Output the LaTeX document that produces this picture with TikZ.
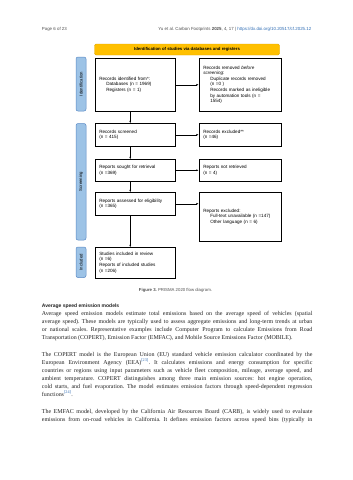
\documentclass[tikz,border=0pt]{standalone}
\usepackage{fontspec}
\setmainfont{Liberation Serif}
\newfontfamily\sansf{Liberation Sans}
\usetikzlibrary{arrows.meta}
\definecolor{bannerY}{HTML}{FFC000}
\definecolor{bannerB}{HTML}{E0A800}
\definecolor{sideF}{HTML}{9DC3E6}
\definecolor{sideB}{HTML}{5A8AC6}
\definecolor{hdrgray}{HTML}{505050}
\definecolor{urlblue}{HTML}{2F6DB5}
\definecolor{citeblue}{HTML}{2F6DB5}
\definecolor{bodyc}{HTML}{222222}
\newcommand\bodyline[3]{\node[bodytxt] (#1) at (41.7,#2) {\hbox to 270.5pt{#3}};}
\newcommand\ind{\hspace*{7pt}}
\begin{document}
\frenchspacing
\begin{tikzpicture}[x=1pt,y=-1pt,
  bodytxt/.style={anchor=base west, inner sep=0pt, text=bodyc, font=\frenchspacing\fontsize{5.95}{7.9}\selectfont},
  fbox/.style={draw, line width=0.5pt, fill=white, anchor=north west, align=left, inner xsep=4.5pt, inner ysep=0pt, font=\sansf\fontsize{4.6}{5.6}\selectfont},
  leftbox/.style={fbox, minimum width=80pt, text width=71pt},
  rightbox/.style={fbox, minimum width=82pt, text width=73pt},
  side/.style={draw=sideB, fill=sideF, line width=0.5pt, rounded corners=2pt, rotate=90, minimum height=10pt, inner sep=0pt, font=\sansf\fontsize{4.3}{5}\selectfont},
  arr/.style={-{Latex[length=2.2pt,width=2pt]}, line width=0.4pt},
  hdr/.style={inner sep=0pt, text=hdrgray, font=\sansf\fontsize{4.4}{5}\selectfont}
]
\useasboundingbox (0,0) rectangle (353,480);
\fill[white] (0,0) rectangle (353,480);

% header
\node[hdr, anchor=base west] (hl) at (41.7,30.5) {Page 6 of 23};
\node[hdr, anchor=base east] (hr) at (311.5,30.5) {Yu et al. Carbon Footprints \textbf{2025}, 4, 17 \textbar{} \textcolor{urlblue}{https://dx.doi.org/10.20517/cf.2025.12}};

% banner
\node[draw=bannerB, fill=bannerY, line width=0.4pt, rounded corners=1.5pt, minimum width=185pt, minimum height=11pt, inner sep=0pt, font=\sansf\bfseries\fontsize{4.3}{5}\selectfont] (banner) at (187,49.5) {Identification of studies via databases and registers};

% side bars
\node[side, minimum width=54pt] (sid1) at (81,84) {Identification};
\node[side, minimum width=116.5pt] (sid2) at (81,181.75) {Screening};
\node[side, minimum width=30.5pt] (sid3) at (81,262.25) {Included};

% boxes
\node[leftbox, minimum height=53pt] (ident) at (94.5,58) {Records identified from*:\\\ind Databases (n = 1969)\\\ind Registers (n = 1)};
\node[rightbox, minimum height=53pt] (removed) at (198.5,58) {Records removed \emph{before}\\\emph{screening}:\\\ind Duplicate records removed\\\ind (n =0 )\\\ind Records marked as ineligible\\\ind by automation tools (n =\\\ind 1554)};
\node[leftbox, minimum height=23pt] (screened) at (94.5,123) {Records screened\\(n = 415)};
\node[rightbox, minimum height=23pt] (excl1) at (198.5,123) {Records excluded**\\(n =46)};
\node[leftbox, minimum height=22pt] (sought) at (94.5,159) {Reports sought for retrieval\\(n =369)};
\node[rightbox, minimum height=22pt] (notret) at (198.5,159) {Reports not retrieved\\(n = 4)};
\node[leftbox, minimum height=23pt] (assessed) at (94.5,192) {Reports assessed for eligibility\\(n =365)};
\node[rightbox, minimum height=49pt] (excl2) at (198.5,192) {Reports excluded:\\\ind Full-text unavailable (n =147)\\\ind Other language (n = 6)};
\node[leftbox, minimum height=30.5pt] (incl) at (94.5,247) {Studies included in review\\(n =6)\\Reports of included studies\\(n =206)};

% arrows
\draw[arr] (ident.east) -- (ident.east -| removed.west);
\draw[arr] (screened.east) -- (screened.east -| excl1.west);
\draw[arr] (sought.east) -- (sought.east -| notret.west);
\draw[arr] (assessed.east) -- (assessed.east -| excl2.west);
\draw[arr] ([xshift=-4.5pt]ident.south) -- ([xshift=-4.5pt]ident.south |- screened.north);
\draw[arr] ([xshift=-4.5pt]screened.south) -- ([xshift=-4.5pt]screened.south |- sought.north);
\draw[arr] ([xshift=-4.5pt]sought.south) -- ([xshift=-4.5pt]sought.south |- assessed.north);
\draw[arr] ([xshift=-4.5pt]assessed.south) -- ([xshift=-4.5pt]assessed.south |- incl.north);

% caption
\node[anchor=base, inner sep=0pt, text=hdrgray, font=\sansf\fontsize{4.3}{5}\selectfont] (cap) at (175.5,291.3) {\textbf{Figure 3.} PRISMA 2020 flow diagram.};

% heading
\node[anchor=base west, inner sep=0pt, text=bodyc, font=\sansf\bfseries\fontsize{5}{6}\selectfont] (head) at (41.7,307.2) {Average speed emission models};

% paragraph 1
\bodyline{a1}{315.3}{Average speed emission models estimate total emissions based on the average speed of vehicles (spatial}
\bodyline{a2}{323.2}{average speed). These models are typically used to assess aggregate emissions and long-term trends at urban}
\bodyline{a3}{331.1}{or national scales. Representative examples include Computer Program to calculate Emissions from Road}
\node[bodytxt] (a4) at (41.7,339.0) {Transportation (COPERT), Emission Factor (EMFAC), and Mobile Source Emissions Factor (MOBILE).};

% paragraph 2
\bodyline{b1}{356.3}{The COPERT model is the European Union (EU) standard vehicle emission calculator coordinated by the}
\bodyline{b2}{364.3}{European Environment Agency (EEA)\textsuperscript{\textcolor{citeblue}{[23]}}. It calculates emissions and energy consumption for specific}
\bodyline{b3}{372.3}{countries or regions using input parameters such as vehicle fleet composition, mileage, average speed, and}
\bodyline{b4}{380.3}{ambient temperature. COPERT distinguishes among three main emission sources: hot engine operation,}
\bodyline{b5}{388.3}{cold starts, and fuel evaporation. The model estimates emission factors through speed-dependent regression}
\node[bodytxt] (b6) at (41.7,396.3) {functions\textsuperscript{\textcolor{citeblue}{[24]}}.};

% paragraph 3
\bodyline{c1}{413.2}{The EMFAC model, developed by the California Air Resources Board (CARB), is widely used to evaluate}
\bodyline{c2}{421.1}{emissions from on-road vehicles in California. It defines emission factors across speed bins (typically in}
\end{tikzpicture}
\end{document}
